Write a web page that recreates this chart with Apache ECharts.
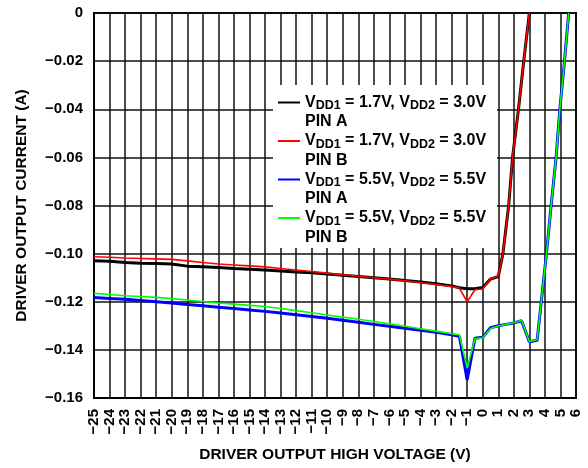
<!DOCTYPE html>
<html>
<head>
<meta charset="utf-8">
<script src="https://cdn.jsdelivr.net/npm/echarts@6/dist/echarts.min.js"></script>
<style>
  html, body { margin: 0; padding: 0; background: #fff; }
  #chart { width: 588px; height: 468px; }
</style>
</head>
<body>
<div id="chart"></div>
<script>
// x positions (V) for the 1.7V/3.0V curves and the 5.5V/5.5V curves
var xLow = [-25, -24, -23, -22, -21, -20, -19, -18, -17, -16, -15, -14, -13, -12, -11, -10,
    -9, -8, -7, -6, -5, -4, -3, -2, -1.5, -1, -0.5, 0, 0.5, 1,
    1.3, 1.67, 1.92, 2.3, 2.64, 3.0];
var xHigh = [-25, -24, -23, -22, -21, -20, -19, -18, -17, -16, -15, -14, -13, -12, -11, -10,
    -9, -8, -7, -6, -5, -4, -3, -2, -1.5, -1, -0.5, 0, 0.5, 1, 1.5, 2, 2.5, 3, 3.5,
    4.1, 4.4, 4.72, 4.96, 5.26, 5.53];

// driver output current (A)
var lowPinA = [-0.1030, -0.1032, -0.1037, -0.1040, -0.1041, -0.1043, -0.1052, -0.1055, -0.1058, -0.1062,
    -0.1065, -0.1068, -0.1072, -0.1076, -0.1080, -0.1085, -0.1090, -0.1095, -0.1100, -0.1105,
    -0.1112, -0.1118, -0.1125, -0.1134, -0.1142, -0.1146, -0.1146, -0.1141, -0.1106, -0.1095,
    -0.100, -0.080, -0.060, -0.040, -0.020, 0.000];
var lowPinB = [-0.1013, -0.1015, -0.1018, -0.1020, -0.1022, -0.1024, -0.1030, -0.1037, -0.1043, -0.1047,
    -0.1051, -0.1055, -0.1062, -0.1068, -0.1074, -0.1081, -0.1088, -0.1094, -0.1100, -0.1106,
    -0.1113, -0.1120, -0.1128, -0.1137, -0.1143, -0.1200, -0.1150, -0.1147, -0.1105, -0.1093,
    -0.100, -0.080, -0.060, -0.040, -0.020, 0.000];
var highPinA = [-0.1182, -0.1186, -0.1190, -0.1195, -0.1200, -0.1205, -0.1211, -0.1217, -0.1223, -0.1228,
    -0.1234, -0.1240, -0.1247, -0.1254, -0.1261, -0.1269, -0.1277, -0.1285, -0.1294, -0.1302,
    -0.1310, -0.1318, -0.1327, -0.1337, -0.1343, -0.1525, -0.1352, -0.1348, -0.1308, -0.1300,
    -0.1294, -0.1288, -0.1279, -0.1366, -0.1360,
    -0.100, -0.080, -0.060, -0.040, -0.020, 0.000];
var highPinB = [-0.1165, -0.1170, -0.1175, -0.1178, -0.1182, -0.1187, -0.1193, -0.1199, -0.1205, -0.1210,
    -0.1215, -0.1220, -0.1228, -0.1237, -0.1246, -0.1255, -0.1264, -0.1273, -0.1282, -0.1292,
    -0.1302, -0.1312, -0.1322, -0.1333, -0.1338, -0.1475, -0.1354, -0.1350, -0.1311, -0.1301,
    -0.1294, -0.1287, -0.1277, -0.1365, -0.1358,
    -0.100, -0.080, -0.060, -0.040, -0.020, 0.000];

// legend text parts
var vdd1 = ['1.7V', '1.7V', '5.5V', '5.5V'];
var vdd2 = ['3.0V', '3.0V', '5.5V', '5.5V'];
var pins = ['PIN A', 'PIN B', 'PIN A', 'PIN B'];
var names = vdd1.map(function (v, i) {
    return 'VDD1 = ' + v + ', VDD2 = ' + vdd2[i] + ' ' + pins[i];
});

var FONT = '"Liberation Sans", Arial, sans-serif';

function pairs(xs, ys) {
    return xs.map(function (x, i) { return [x, ys[i]]; });
}
function minus(v) {
    return v < 0 ? '\u2212' + String(-v) : String(v);
}

var myChart = echarts.init(document.getElementById('chart'));
var option = {
    animation: false,
    backgroundColor: '#fff',
    textStyle: { fontFamily: FONT },
    grid: {
        left: 94, right: 12, top: 13, bottom: 70,
        show: true, borderColor: '#000', borderWidth: 2
    },
    graphic: [{
        // white box behind the legend
        type: 'rect', z: 1, silent: true,
        shape: { x: 273, y: 85, width: 224, height: 163 },
        style: { fill: '#fff' }
    }],
    legend: {
        orient: 'vertical',
        left: 277, top: 75,
        padding: 0,
        itemGap: -16.5,
        itemWidth: 22, itemHeight: 14,
        data: names,
        itemStyle: { color: 'rgba(0,0,0,0)', borderWidth: 0 },
        // blank first line keeps the line sample level with the VDD line
        formatter: function (name) {
            var i = names.indexOf(name);
            return '{m| }\n{m|V}{s|DD1}{m| = ' + vdd1[i] + ', V}{s|DD2}{m| = ' + vdd2[i] + '}\n{m|' + pins[i] + '}';
        },
        textStyle: {
            rich: {
                m: { fontSize: 16, fontWeight: 'bold', color: '#000', lineHeight: 19.5, fontFamily: FONT },
                s: { fontSize: 12.5, fontWeight: 'bold', color: '#000', lineHeight: 12, verticalAlign: 'bottom', fontFamily: FONT }
            }
        }
    },
    xAxis: {
        type: 'value',
        min: -25, max: 6, interval: 1,
        name: 'DRIVER OUTPUT HIGH VOLTAGE (V)',
        nameLocation: 'middle',
        nameGap: 49,
        nameTextStyle: { fontSize: 15.5, fontWeight: 'bold', color: '#000', fontFamily: FONT },
        axisLine: { show: true, onZero: false, lineStyle: { color: '#000', width: 2 } },
        axisTick: { show: false },
        axisLabel: {
            rotate: 90, margin: 11,
            fontSize: 15, fontWeight: 'bold', color: '#000', fontFamily: FONT,
            formatter: minus
        },
        splitLine: { show: true, lineStyle: { color: '#111', width: 1.5 } }
    },
    yAxis: {
        type: 'value',
        min: -0.16, max: 0, interval: 0.02,
        name: 'DRIVER OUTPUT CURRENT (A)',
        nameLocation: 'middle',
        nameGap: 64,
        nameTextStyle: { fontSize: 15.5, fontWeight: 'bold', color: '#000', fontFamily: FONT },
        axisLine: { show: true, onZero: false, lineStyle: { color: '#000', width: 2 } },
        axisTick: { show: false },
        axisLabel: {
            margin: 11,
            fontSize: 15, fontWeight: 'bold', color: '#000', fontFamily: FONT,
            formatter: function (v) {
                return v === 0 ? '0' : '\u2212' + Math.abs(v).toFixed(2);
            }
        },
        splitLine: { show: true, lineStyle: { color: '#111', width: 1.5 } }
    },
    series: [
        {
            name: names[0], type: 'line', symbol: 'none', z: 3,
            lineStyle: { color: '#000', width: 3 }, itemStyle: { color: '#000' },
            data: pairs(xLow, lowPinA)
        },
        {
            name: names[1], type: 'line', symbol: 'none', z: 4,
            lineStyle: { color: '#ff0000', width: 1.6 }, itemStyle: { color: '#ff0000' },
            data: pairs(xLow, lowPinB)
        },
        {
            name: names[2], type: 'line', symbol: 'none', z: 3,
            lineStyle: { color: '#0000ff', width: 3 }, itemStyle: { color: '#0000ff' },
            data: pairs(xHigh, highPinA)
        },
        {
            name: names[3], type: 'line', symbol: 'none', z: 4,
            lineStyle: { color: '#00ff00', width: 1.6 }, itemStyle: { color: '#00ff00' },
            data: pairs(xHigh, highPinB)
        }
    ]
};
myChart.setOption(option);
</script>
</body>
</html>
